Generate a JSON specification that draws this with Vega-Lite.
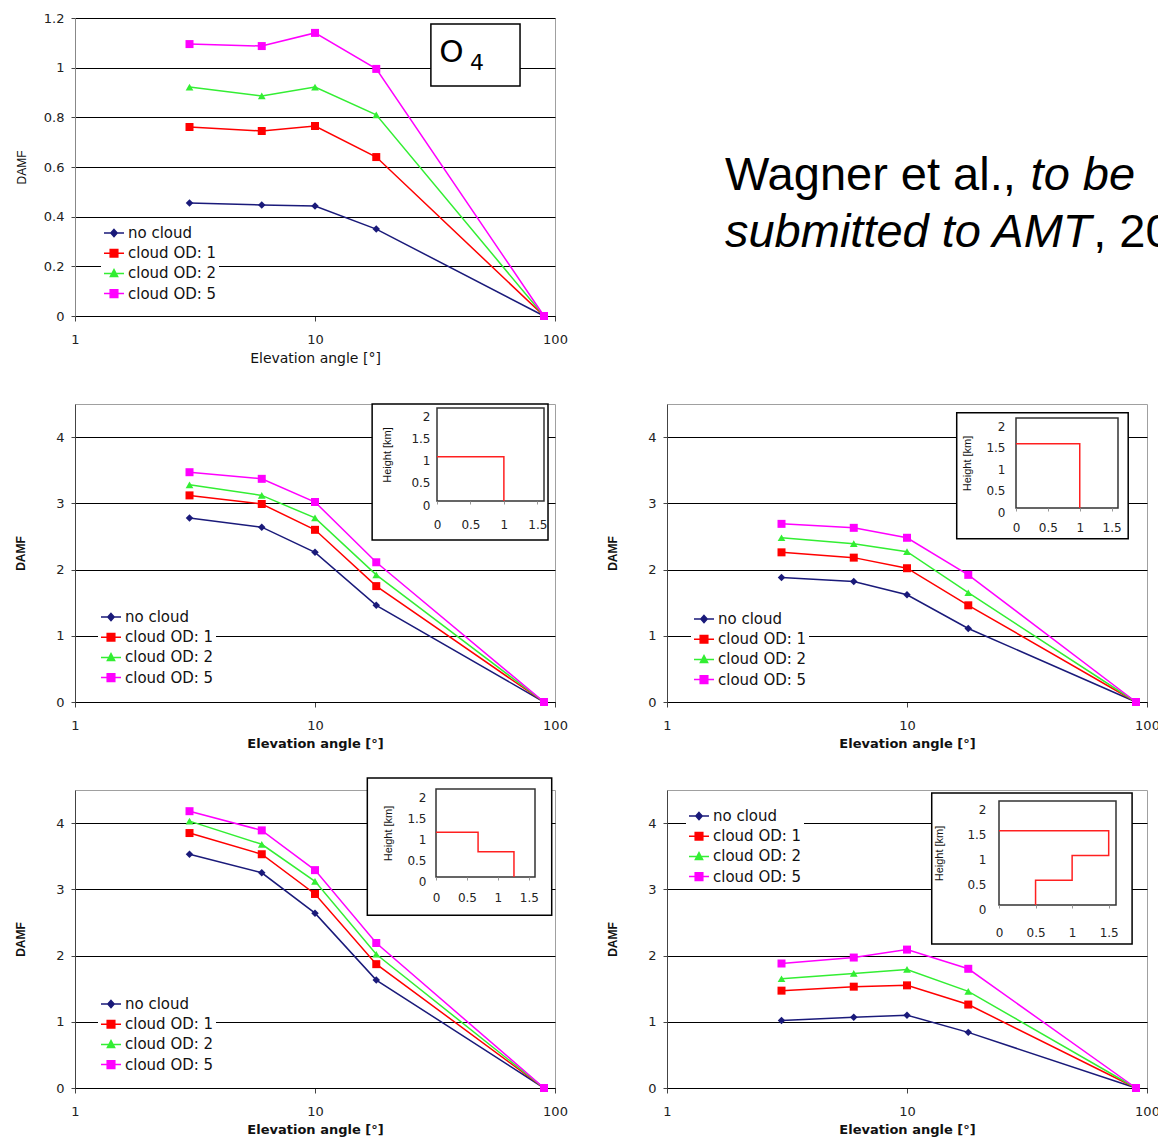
{
  "$schema": "https://vega.github.io/schema/vega-lite/v6.json",
  "background": "white",
  "padding": {"left": 14, "top": 11, "right": 0, "bottom": 0},
  "config": {
    "font": "DejaVu Sans",
    "view": {"stroke": "#a0a0a0"},
    "axis": {"labelFont": "DejaVu Sans", "titleFont": "DejaVu Sans", "labelFontSize": 13, "labelColor": "#222", "titleColor": "#111", "tickColor": "#444", "domainColor": "#000", "gridColor": "#000", "gridOpacity": 1, "labelAngle": 0},
    "legend": {"labelFont": "DejaVu Sans", "labelFontSize": 15, "labelColor": "#111", "symbolSize": 400, "symbolStrokeWidth": 1.5, "symbolOpacity": 1, "rowPadding": 1.2, "padding": 2, "fillColor": "white", "labelOffset": 3}
  },
  "datasets": {
    "p1": [
      {"angle": 3, "series": "no cloud", "damf": 0.455}, {"angle": 6, "series": "no cloud", "damf": 0.447}, {"angle": 10, "series": "no cloud", "damf": 0.443}, {"angle": 18, "series": "no cloud", "damf": 0.35}, {"angle": 90, "series": "no cloud", "damf": 0},
      {"angle": 3, "series": "cloud OD: 1", "damf": 0.761}, {"angle": 6, "series": "cloud OD: 1", "damf": 0.745}, {"angle": 10, "series": "cloud OD: 1", "damf": 0.765}, {"angle": 18, "series": "cloud OD: 1", "damf": 0.64}, {"angle": 90, "series": "cloud OD: 1", "damf": 0},
      {"angle": 3, "series": "cloud OD: 2", "damf": 0.922}, {"angle": 6, "series": "cloud OD: 2", "damf": 0.886}, {"angle": 10, "series": "cloud OD: 2", "damf": 0.922}, {"angle": 18, "series": "cloud OD: 2", "damf": 0.81}, {"angle": 90, "series": "cloud OD: 2", "damf": 0},
      {"angle": 3, "series": "cloud OD: 5", "damf": 1.095}, {"angle": 6, "series": "cloud OD: 5", "damf": 1.087}, {"angle": 10, "series": "cloud OD: 5", "damf": 1.14}, {"angle": 18, "series": "cloud OD: 5", "damf": 0.995}, {"angle": 90, "series": "cloud OD: 5", "damf": 0}
    ],
    "p2": [
      {"angle": 3, "series": "no cloud", "damf": 2.78}, {"angle": 6, "series": "no cloud", "damf": 2.64}, {"angle": 10, "series": "no cloud", "damf": 2.26}, {"angle": 18, "series": "no cloud", "damf": 1.46}, {"angle": 90, "series": "no cloud", "damf": 0},
      {"angle": 3, "series": "cloud OD: 1", "damf": 3.12}, {"angle": 6, "series": "cloud OD: 1", "damf": 2.99}, {"angle": 10, "series": "cloud OD: 1", "damf": 2.6}, {"angle": 18, "series": "cloud OD: 1", "damf": 1.75}, {"angle": 90, "series": "cloud OD: 1", "damf": 0},
      {"angle": 3, "series": "cloud OD: 2", "damf": 3.28}, {"angle": 6, "series": "cloud OD: 2", "damf": 3.12}, {"angle": 10, "series": "cloud OD: 2", "damf": 2.78}, {"angle": 18, "series": "cloud OD: 2", "damf": 1.92}, {"angle": 90, "series": "cloud OD: 2", "damf": 0},
      {"angle": 3, "series": "cloud OD: 5", "damf": 3.47}, {"angle": 6, "series": "cloud OD: 5", "damf": 3.37}, {"angle": 10, "series": "cloud OD: 5", "damf": 3.02}, {"angle": 18, "series": "cloud OD: 5", "damf": 2.11}, {"angle": 90, "series": "cloud OD: 5", "damf": 0}
    ],
    "p3": [
      {"angle": 3, "series": "no cloud", "damf": 1.88}, {"angle": 6, "series": "no cloud", "damf": 1.82}, {"angle": 10, "series": "no cloud", "damf": 1.62}, {"angle": 18, "series": "no cloud", "damf": 1.11}, {"angle": 90, "series": "no cloud", "damf": 0},
      {"angle": 3, "series": "cloud OD: 1", "damf": 2.26}, {"angle": 6, "series": "cloud OD: 1", "damf": 2.18}, {"angle": 10, "series": "cloud OD: 1", "damf": 2.02}, {"angle": 18, "series": "cloud OD: 1", "damf": 1.46}, {"angle": 90, "series": "cloud OD: 1", "damf": 0},
      {"angle": 3, "series": "cloud OD: 2", "damf": 2.48}, {"angle": 6, "series": "cloud OD: 2", "damf": 2.39}, {"angle": 10, "series": "cloud OD: 2", "damf": 2.27}, {"angle": 18, "series": "cloud OD: 2", "damf": 1.65}, {"angle": 90, "series": "cloud OD: 2", "damf": 0},
      {"angle": 3, "series": "cloud OD: 5", "damf": 2.69}, {"angle": 6, "series": "cloud OD: 5", "damf": 2.63}, {"angle": 10, "series": "cloud OD: 5", "damf": 2.48}, {"angle": 18, "series": "cloud OD: 5", "damf": 1.92}, {"angle": 90, "series": "cloud OD: 5", "damf": 0}
    ],
    "p4": [
      {"angle": 3, "series": "no cloud", "damf": 3.53}, {"angle": 6, "series": "no cloud", "damf": 3.25}, {"angle": 10, "series": "no cloud", "damf": 2.64}, {"angle": 18, "series": "no cloud", "damf": 1.63}, {"angle": 90, "series": "no cloud", "damf": 0},
      {"angle": 3, "series": "cloud OD: 1", "damf": 3.85}, {"angle": 6, "series": "cloud OD: 1", "damf": 3.53}, {"angle": 10, "series": "cloud OD: 1", "damf": 2.93}, {"angle": 18, "series": "cloud OD: 1", "damf": 1.87}, {"angle": 90, "series": "cloud OD: 1", "damf": 0},
      {"angle": 3, "series": "cloud OD: 2", "damf": 4.03}, {"angle": 6, "series": "cloud OD: 2", "damf": 3.68}, {"angle": 10, "series": "cloud OD: 2", "damf": 3.12}, {"angle": 18, "series": "cloud OD: 2", "damf": 2.02}, {"angle": 90, "series": "cloud OD: 2", "damf": 0},
      {"angle": 3, "series": "cloud OD: 5", "damf": 4.18}, {"angle": 6, "series": "cloud OD: 5", "damf": 3.89}, {"angle": 10, "series": "cloud OD: 5", "damf": 3.29}, {"angle": 18, "series": "cloud OD: 5", "damf": 2.19}, {"angle": 90, "series": "cloud OD: 5", "damf": 0}
    ],
    "p5": [
      {"angle": 3, "series": "no cloud", "damf": 1.02}, {"angle": 6, "series": "no cloud", "damf": 1.07}, {"angle": 10, "series": "no cloud", "damf": 1.1}, {"angle": 18, "series": "no cloud", "damf": 0.84}, {"angle": 90, "series": "no cloud", "damf": 0},
      {"angle": 3, "series": "cloud OD: 1", "damf": 1.47}, {"angle": 6, "series": "cloud OD: 1", "damf": 1.53}, {"angle": 10, "series": "cloud OD: 1", "damf": 1.55}, {"angle": 18, "series": "cloud OD: 1", "damf": 1.26}, {"angle": 90, "series": "cloud OD: 1", "damf": 0},
      {"angle": 3, "series": "cloud OD: 2", "damf": 1.65}, {"angle": 6, "series": "cloud OD: 2", "damf": 1.73}, {"angle": 10, "series": "cloud OD: 2", "damf": 1.79}, {"angle": 18, "series": "cloud OD: 2", "damf": 1.46}, {"angle": 90, "series": "cloud OD: 2", "damf": 0},
      {"angle": 3, "series": "cloud OD: 5", "damf": 1.88}, {"angle": 6, "series": "cloud OD: 5", "damf": 1.97}, {"angle": 10, "series": "cloud OD: 5", "damf": 2.09}, {"angle": 18, "series": "cloud OD: 5", "damf": 1.8}, {"angle": 90, "series": "cloud OD: 5", "damf": 0}
    ],
    "prof2": [{"ext": 0, "h": 1.0, "i": 0}, {"ext": 1, "h": 1.0, "i": 1}, {"ext": 1, "h": 0, "i": 2}],
    "prof3": [{"ext": 0, "h": 1.5, "i": 0}, {"ext": 1, "h": 1.5, "i": 1}, {"ext": 1, "h": 0, "i": 2}],
    "prof4": [{"ext": 0, "h": 1.07, "i": 0}, {"ext": 0.68, "h": 1.07, "i": 1}, {"ext": 0.68, "h": 0.6, "i": 2}, {"ext": 1.26, "h": 0.6, "i": 3}, {"ext": 1.26, "h": 0, "i": 4}],
    "prof5": [{"ext": 0, "h": 1.5, "i": 0}, {"ext": 1.5, "h": 1.5, "i": 1}, {"ext": 1.5, "h": 1.0, "i": 2}, {"ext": 1.0, "h": 1.0, "i": 3}, {"ext": 1.0, "h": 0.5, "i": 4}, {"ext": 0.5, "h": 0.5, "i": 5}, {"ext": 0.5, "h": 0, "i": 6}]
  },
  "columns": 2,
  "bounds": "flush",
  "spacing": {"row": 88, "column": 112},
  "resolve": {"scale": {"shape": "independent", "fill": "independent", "stroke": "independent"}, "legend": {"shape": "independent", "fill": "independent", "stroke": "independent"}},
  "concat": [
    {
      "width": 480, "height": 298,
      "layer": [
        {
          "data": {"name": "p1"},
          "encoding": {
            "x": {"field": "angle", "type": "quantitative", "scale": {"type": "log", "domain": [1, 100], "nice": false}, "axis": {"title": "Elevation angle [°]", "values": [1, 10, 100], "format": "~g", "grid": false, "tickSize": 5, "labelPadding": 12, "titlePadding": 5, "titleFontSize": 14, "titleFontWeight": "normal", "labelFlush": false}},
            "y": {"field": "damf", "type": "quantitative", "scale": {"domain": [0, 1.2], "nice": false}, "axis": {"title": "DAMF", "values": [0, 0.2, 0.4, 0.6, 0.8, 1, 1.2], "format": "~g", "grid": true, "tickSize": 4, "labelPadding": 7, "domainColor": "#888", "titleFont": "Liberation Sans", "titleFontSize": 12, "titleFontWeight": "normal", "titlePadding": 15}}
          },
          "layer": [
            {"mark": {"type": "line", "strokeWidth": 1.5}, "encoding": {"stroke": {"field": "series", "type": "nominal", "scale": {"domain": ["no cloud", "cloud OD: 1", "cloud OD: 2", "cloud OD: 5"], "range": ["#1a1a7a", "#ff0000", "#33ee33", "#ff00ff"]}, "legend": {"title": null, "orient": "none", "legendX": 26, "legendY": 202}}}},
            {"transform": [{"filter": "datum.series === 'no cloud'"}], "mark": {"type": "point", "shape": "diamond", "filled": true, "opacity": 1, "size": 56}, "encoding": {"fill": {"field": "series", "type": "nominal", "scale": {"domain": ["no cloud", "cloud OD: 1", "cloud OD: 2", "cloud OD: 5"], "range": ["#1a1a7a", "#ff0000", "#33ee33", "#ff00ff"]}, "legend": {"title": null, "orient": "none", "legendX": 26, "legendY": 202}}}},
            {"transform": [{"filter": "datum.series === 'cloud OD: 2'"}], "mark": {"type": "point", "shape": "triangle-up", "filled": true, "opacity": 1, "size": 60}, "encoding": {"fill": {"field": "series", "type": "nominal", "scale": {"domain": ["no cloud", "cloud OD: 1", "cloud OD: 2", "cloud OD: 5"], "range": ["#1a1a7a", "#ff0000", "#33ee33", "#ff00ff"]}, "legend": {"title": null, "orient": "none", "legendX": 26, "legendY": 202}}}},
            {"transform": [{"filter": "datum.series === 'cloud OD: 1' || datum.series === 'cloud OD: 5'"}], "mark": {"type": "point", "shape": "square", "filled": true, "opacity": 1, "size": 64}, "encoding": {"fill": {"field": "series", "type": "nominal", "scale": {"domain": ["no cloud", "cloud OD: 1", "cloud OD: 2", "cloud OD: 5"], "range": ["#1a1a7a", "#ff0000", "#33ee33", "#ff00ff"]}, "legend": {"title": null, "orient": "none", "legendX": 26, "legendY": 202}}}},
            {"mark": {"type": "point", "filled": true, "opacity": 0},
             "encoding": {
               "fill": {"field": "series", "type": "nominal", "scale": {"domain": ["no cloud", "cloud OD: 1", "cloud OD: 2", "cloud OD: 5"], "range": ["#1a1a7a", "#ff0000", "#33ee33", "#ff00ff"]}, "legend": {"title": null, "orient": "none", "legendX": 26, "legendY": 202}},
               "stroke": {"field": "series", "type": "nominal", "scale": {"domain": ["no cloud", "cloud OD: 1", "cloud OD: 2", "cloud OD: 5"], "range": ["#1a1a7a", "#ff0000", "#33ee33", "#ff00ff"]}, "legend": {"title": null, "orient": "none", "legendX": 26, "legendY": 202}},
               "shape": {"field": "series", "type": "nominal", "scale": {"domain": ["no cloud", "cloud OD: 1", "cloud OD: 2", "cloud OD: 5"], "range": ["M-1,0H1M0,-0.36L0.32,0L0,0.36L-0.32,0Z", "M-1,0H1M-0.38,-0.38H0.38V0.38H-0.38Z", "M-1,0H1M0,-0.38L0.36,0.3L-0.36,0.3Z", "M-1,0H1M-0.38,-0.38H0.38V0.38H-0.38Z"]}, "legend": {"title": null, "orient": "none", "legendX": 26, "legendY": 202}}
             }}
          ]
        },
        {"data": {"values": [{}]}, "mark": {"type": "rect", "fill": "white", "stroke": "#000", "strokeWidth": 1.5}, "encoding": {"x": {"datum": 30.4, "type": "quantitative"}, "x2": {"datum": 71.5}, "y": {"datum": 0.926, "type": "quantitative"}, "y2": {"datum": 1.176}}},
        {"data": {"values": [{}]}, "mark": {"type": "text", "text": "O", "fontSize": 31, "align": "left", "baseline": "alphabetic", "font": "DejaVu Sans", "color": "#000"}, "encoding": {"x": {"datum": 32.9, "type": "quantitative"}, "y": {"datum": 1.023, "type": "quantitative"}}},
        {"data": {"values": [{}]}, "mark": {"type": "text", "text": "4", "fontSize": 22, "align": "left", "baseline": "alphabetic", "font": "DejaVu Sans", "color": "#000"}, "encoding": {"x": {"datum": 44.2, "type": "quantitative"}, "y": {"datum": 0.99, "type": "quantitative"}}}
      ]
    },
    {
      "width": 480, "height": 298,
      "view": {"stroke": null},
      "data": {"values": [{}]},
      "layer": [
        {"mark": {"type": "text", "text": "Wagner et al.,", "fontSize": 47, "align": "left", "baseline": "alphabetic", "font": "Liberation Sans", "color": "#000"}, "encoding": {"x": {"datum": 12.08, "type": "quantitative", "scale": {"domain": [0, 100]}, "axis": null}, "y": {"datum": 42.28, "type": "quantitative", "scale": {"domain": [0, 100]}, "axis": null}}},
        {"mark": {"type": "text", "text": "to be", "fontSize": 47, "fontStyle": "italic", "align": "left", "baseline": "alphabetic", "font": "Liberation Sans", "color": "#000"}, "encoding": {"x": {"datum": 75.75, "type": "quantitative", "scale": {"domain": [0, 100]}, "axis": null}, "y": {"datum": 42.28, "type": "quantitative", "scale": {"domain": [0, 100]}, "axis": null}}},
        {"mark": {"type": "text", "text": "submitted to AMT", "fontSize": 47, "fontStyle": "italic", "align": "left", "baseline": "alphabetic", "font": "Liberation Sans", "color": "#000"}, "encoding": {"x": {"datum": 12.08, "type": "quantitative", "scale": {"domain": [0, 100]}, "axis": null}, "y": {"datum": 23.15, "type": "quantitative", "scale": {"domain": [0, 100]}, "axis": null}}},
        {"mark": {"type": "text", "text": ", 20", "fontSize": 47, "align": "left", "baseline": "alphabetic", "font": "Liberation Sans", "color": "#000"}, "encoding": {"x": {"datum": 88.8, "type": "quantitative", "scale": {"domain": [0, 100]}, "axis": null}, "y": {"datum": 23.15, "type": "quantitative", "scale": {"domain": [0, 100]}, "axis": null}}}
      ]
    },
    {
      "width": 480, "height": 298,
      "resolve": {"scale": {"x": "independent", "y": "independent"}},
      "layer": [
        {
          "data": {"name": "p2"},
          "encoding": {
            "x": {"field": "angle", "type": "quantitative", "scale": {"type": "log", "domain": [1, 100], "nice": false}, "axis": {"title": "Elevation angle [°]", "values": [1, 10, 100], "format": "~g", "grid": false, "tickSize": 5, "labelPadding": 12, "titlePadding": 5, "titleFontSize": 13, "titleFontWeight": "bold", "labelFlush": false}},
            "y": {"field": "damf", "type": "quantitative", "scale": {"domain": [0, 4.5], "nice": false}, "axis": {"title": "DAMF", "values": [0, 1, 2, 3, 4], "format": "~g", "grid": true, "tickSize": 4, "labelPadding": 7, "domainColor": "#444", "titleFont": "Liberation Sans", "titleFontSize": 12, "titleFontWeight": "bold", "titlePadding": 28}}
          },
          "layer": [
            {"mark": {"type": "line", "strokeWidth": 1.5}, "encoding": {"stroke": {"field": "series", "type": "nominal", "scale": {"domain": ["no cloud", "cloud OD: 1", "cloud OD: 2", "cloud OD: 5"], "range": ["#1a1a7a", "#ff0000", "#33ee33", "#ff00ff"]}, "legend": {"title": null, "orient": "none", "legendX": 23, "legendY": 200}}}},
            {"transform": [{"filter": "datum.series === 'no cloud'"}], "mark": {"type": "point", "shape": "diamond", "filled": true, "opacity": 1, "size": 56}, "encoding": {"fill": {"field": "series", "type": "nominal", "scale": {"domain": ["no cloud", "cloud OD: 1", "cloud OD: 2", "cloud OD: 5"], "range": ["#1a1a7a", "#ff0000", "#33ee33", "#ff00ff"]}, "legend": {"title": null, "orient": "none", "legendX": 23, "legendY": 200}}}},
            {"transform": [{"filter": "datum.series === 'cloud OD: 2'"}], "mark": {"type": "point", "shape": "triangle-up", "filled": true, "opacity": 1, "size": 60}, "encoding": {"fill": {"field": "series", "type": "nominal", "scale": {"domain": ["no cloud", "cloud OD: 1", "cloud OD: 2", "cloud OD: 5"], "range": ["#1a1a7a", "#ff0000", "#33ee33", "#ff00ff"]}, "legend": {"title": null, "orient": "none", "legendX": 23, "legendY": 200}}}},
            {"transform": [{"filter": "datum.series === 'cloud OD: 1' || datum.series === 'cloud OD: 5'"}], "mark": {"type": "point", "shape": "square", "filled": true, "opacity": 1, "size": 64}, "encoding": {"fill": {"field": "series", "type": "nominal", "scale": {"domain": ["no cloud", "cloud OD: 1", "cloud OD: 2", "cloud OD: 5"], "range": ["#1a1a7a", "#ff0000", "#33ee33", "#ff00ff"]}, "legend": {"title": null, "orient": "none", "legendX": 23, "legendY": 200}}}},
            {"mark": {"type": "point", "filled": true, "opacity": 0},
             "encoding": {
               "fill": {"field": "series", "type": "nominal", "scale": {"domain": ["no cloud", "cloud OD: 1", "cloud OD: 2", "cloud OD: 5"], "range": ["#1a1a7a", "#ff0000", "#33ee33", "#ff00ff"]}, "legend": {"title": null, "orient": "none", "legendX": 23, "legendY": 200}},
               "stroke": {"field": "series", "type": "nominal", "scale": {"domain": ["no cloud", "cloud OD: 1", "cloud OD: 2", "cloud OD: 5"], "range": ["#1a1a7a", "#ff0000", "#33ee33", "#ff00ff"]}, "legend": {"title": null, "orient": "none", "legendX": 23, "legendY": 200}},
               "shape": {"field": "series", "type": "nominal", "scale": {"domain": ["no cloud", "cloud OD: 1", "cloud OD: 2", "cloud OD: 5"], "range": ["M-1,0H1M0,-0.36L0.32,0L0,0.36L-0.32,0Z", "M-1,0H1M-0.38,-0.38H0.38V0.38H-0.38Z", "M-1,0H1M0,-0.38L0.36,0.3L-0.36,0.3Z", "M-1,0H1M-0.38,-0.38H0.38V0.38H-0.38Z"]}, "legend": {"title": null, "orient": "none", "legendX": 23, "legendY": 200}}
             }}
          ]
        },
        {
          "layer": [
            {"data": {"values": [{}]}, "mark": {"type": "rect", "fill": "white", "stroke": "#000", "strokeWidth": 1.5}, "encoding": {"x": {"datum": -0.97, "type": "quantitative", "scale": {"domain": [0, 1.6], "range": [362, 469], "nice": false, "zero": false}}, "x2": {"datum": 1.66}, "y": {"datum": -0.88, "type": "quantitative", "scale": {"domain": [0, 2.1], "range": [97, 4], "nice": false, "zero": false}}, "y2": {"datum": 2.19}}},
            {"data": {"values": [{}]}, "mark": {"type": "rect", "fill": null, "fillOpacity": 0, "stroke": "#333", "strokeWidth": 1.5}, "encoding": {"x": {"datum": 0, "type": "quantitative", "scale": {"domain": [0, 1.6], "range": [362, 469], "nice": false, "zero": false}}, "x2": {"datum": 1.6}, "y": {"datum": 0, "type": "quantitative", "scale": {"domain": [0, 2.1], "range": [97, 4], "nice": false, "zero": false}}, "y2": {"datum": 2.1}}},
            {"data": {"name": "prof2"}, "mark": {"type": "line", "color": "#ff2020", "strokeWidth": 1.5}, "encoding": {
              "x": {"field": "ext", "type": "quantitative", "scale": {"domain": [0, 1.6], "range": [362, 469], "nice": false, "zero": false}, "axis": {"orient": "bottom", "offset": -201, "values": [0, 0.5, 1, 1.5], "format": "~g", "grid": false, "domain": false, "tickSize": 3, "tickColor": "#999", "labelPadding": 15, "labelFontSize": 12, "title": null, "zindex": 1, "labelFlush": false}},
              "y": {"field": "h", "type": "quantitative", "scale": {"domain": [0, 2.1], "range": [97, 4], "nice": false, "zero": false}, "axis": {"orient": "left", "offset": -362, "values": [0, 0.5, 1, 1.5, 2], "format": "~g", "grid": false, "domain": false, "tickSize": 0, "labelPadding": 7, "labelOffset": 4, "labelFontSize": 12, "title": "Height [km]", "titleFont": "Liberation Sans", "titleFontSize": 11, "titleFontWeight": "normal", "titlePadding": 18, "zindex": 1}},
              "order": {"field": "i", "type": "quantitative"}}}
          ]
        }
      ]
    },
    {
      "width": 480, "height": 298,
      "resolve": {"scale": {"x": "independent", "y": "independent"}},
      "layer": [
        {
          "data": {"name": "p3"},
          "encoding": {
            "x": {"field": "angle", "type": "quantitative", "scale": {"type": "log", "domain": [1, 100], "nice": false}, "axis": {"title": "Elevation angle [°]", "values": [1, 10, 100], "format": "~g", "grid": false, "tickSize": 5, "labelPadding": 12, "titlePadding": 5, "titleFontSize": 13, "titleFontWeight": "bold", "labelFlush": false}},
            "y": {"field": "damf", "type": "quantitative", "scale": {"domain": [0, 4.5], "nice": false}, "axis": {"title": "DAMF", "values": [0, 1, 2, 3, 4], "format": "~g", "grid": true, "tickSize": 4, "labelPadding": 7, "domainColor": "#444", "titleFont": "Liberation Sans", "titleFontSize": 12, "titleFontWeight": "bold", "titlePadding": 28}}
          },
          "layer": [
            {"mark": {"type": "line", "strokeWidth": 1.5}, "encoding": {"stroke": {"field": "series", "type": "nominal", "scale": {"domain": ["no cloud", "cloud OD: 1", "cloud OD: 2", "cloud OD: 5"], "range": ["#1a1a7a", "#ff0000", "#33ee33", "#ff00ff"]}, "legend": {"title": null, "orient": "none", "legendX": 24, "legendY": 202}}}},
            {"transform": [{"filter": "datum.series === 'no cloud'"}], "mark": {"type": "point", "shape": "diamond", "filled": true, "opacity": 1, "size": 56}, "encoding": {"fill": {"field": "series", "type": "nominal", "scale": {"domain": ["no cloud", "cloud OD: 1", "cloud OD: 2", "cloud OD: 5"], "range": ["#1a1a7a", "#ff0000", "#33ee33", "#ff00ff"]}, "legend": {"title": null, "orient": "none", "legendX": 24, "legendY": 202}}}},
            {"transform": [{"filter": "datum.series === 'cloud OD: 2'"}], "mark": {"type": "point", "shape": "triangle-up", "filled": true, "opacity": 1, "size": 60}, "encoding": {"fill": {"field": "series", "type": "nominal", "scale": {"domain": ["no cloud", "cloud OD: 1", "cloud OD: 2", "cloud OD: 5"], "range": ["#1a1a7a", "#ff0000", "#33ee33", "#ff00ff"]}, "legend": {"title": null, "orient": "none", "legendX": 24, "legendY": 202}}}},
            {"transform": [{"filter": "datum.series === 'cloud OD: 1' || datum.series === 'cloud OD: 5'"}], "mark": {"type": "point", "shape": "square", "filled": true, "opacity": 1, "size": 64}, "encoding": {"fill": {"field": "series", "type": "nominal", "scale": {"domain": ["no cloud", "cloud OD: 1", "cloud OD: 2", "cloud OD: 5"], "range": ["#1a1a7a", "#ff0000", "#33ee33", "#ff00ff"]}, "legend": {"title": null, "orient": "none", "legendX": 24, "legendY": 202}}}},
            {"mark": {"type": "point", "filled": true, "opacity": 0},
             "encoding": {
               "fill": {"field": "series", "type": "nominal", "scale": {"domain": ["no cloud", "cloud OD: 1", "cloud OD: 2", "cloud OD: 5"], "range": ["#1a1a7a", "#ff0000", "#33ee33", "#ff00ff"]}, "legend": {"title": null, "orient": "none", "legendX": 24, "legendY": 202}},
               "stroke": {"field": "series", "type": "nominal", "scale": {"domain": ["no cloud", "cloud OD: 1", "cloud OD: 2", "cloud OD: 5"], "range": ["#1a1a7a", "#ff0000", "#33ee33", "#ff00ff"]}, "legend": {"title": null, "orient": "none", "legendX": 24, "legendY": 202}},
               "shape": {"field": "series", "type": "nominal", "scale": {"domain": ["no cloud", "cloud OD: 1", "cloud OD: 2", "cloud OD: 5"], "range": ["M-1,0H1M0,-0.36L0.32,0L0,0.36L-0.32,0Z", "M-1,0H1M-0.38,-0.38H0.38V0.38H-0.38Z", "M-1,0H1M0,-0.38L0.36,0.3L-0.36,0.3Z", "M-1,0H1M-0.38,-0.38H0.38V0.38H-0.38Z"]}, "legend": {"title": null, "orient": "none", "legendX": 24, "legendY": 202}}
             }}
          ]
        },
        {
          "layer": [
            {"data": {"values": [{}]}, "mark": {"type": "rect", "fill": "white", "stroke": "#000", "strokeWidth": 1.5}, "encoding": {"x": {"datum": -0.93, "type": "quantitative", "scale": {"domain": [0, 1.6], "range": [349, 451], "nice": false, "zero": false}}, "x2": {"datum": 1.76}, "y": {"datum": -0.72, "type": "quantitative", "scale": {"domain": [0, 2.1], "range": [104, 14], "nice": false, "zero": false}}, "y2": {"datum": 2.22}}},
            {"data": {"values": [{}]}, "mark": {"type": "rect", "fill": null, "fillOpacity": 0, "stroke": "#333", "strokeWidth": 1.5}, "encoding": {"x": {"datum": 0, "type": "quantitative", "scale": {"domain": [0, 1.6], "range": [349, 451], "nice": false, "zero": false}}, "x2": {"datum": 1.6}, "y": {"datum": 0, "type": "quantitative", "scale": {"domain": [0, 2.1], "range": [104, 14], "nice": false, "zero": false}}, "y2": {"datum": 2.1}}},
            {"data": {"name": "prof3"}, "mark": {"type": "line", "color": "#ff2020", "strokeWidth": 1.5}, "encoding": {
              "x": {"field": "ext", "type": "quantitative", "scale": {"domain": [0, 1.6], "range": [349, 451], "nice": false, "zero": false}, "axis": {"orient": "bottom", "offset": -194, "values": [0, 0.5, 1, 1.5], "format": "~g", "grid": false, "domain": false, "tickSize": 3, "tickColor": "#999", "labelPadding": 11, "labelFontSize": 12, "title": null, "zindex": 1, "labelFlush": false}},
              "y": {"field": "h", "type": "quantitative", "scale": {"domain": [0, 2.1], "range": [104, 14], "nice": false, "zero": false}, "axis": {"orient": "left", "offset": -349, "values": [0, 0.5, 1, 1.5, 2], "format": "~g", "grid": false, "domain": false, "tickSize": 0, "labelPadding": 11, "labelOffset": 4, "labelFontSize": 12, "title": "Height [km]", "titleFont": "Liberation Sans", "titleFontSize": 11, "titleFontWeight": "normal", "titlePadding": 13, "zindex": 1}},
              "order": {"field": "i", "type": "quantitative"}}}
          ]
        }
      ]
    },
    {
      "width": 480, "height": 298,
      "resolve": {"scale": {"x": "independent", "y": "independent"}},
      "layer": [
        {
          "data": {"name": "p4"},
          "encoding": {
            "x": {"field": "angle", "type": "quantitative", "scale": {"type": "log", "domain": [1, 100], "nice": false}, "axis": {"title": "Elevation angle [°]", "values": [1, 10, 100], "format": "~g", "grid": false, "tickSize": 5, "labelPadding": 12, "titlePadding": 5, "titleFontSize": 13, "titleFontWeight": "bold", "labelFlush": false}},
            "y": {"field": "damf", "type": "quantitative", "scale": {"domain": [0, 4.5], "nice": false}, "axis": {"title": "DAMF", "values": [0, 1, 2, 3, 4], "format": "~g", "grid": true, "tickSize": 4, "labelPadding": 7, "domainColor": "#444", "titleFont": "Liberation Sans", "titleFontSize": 12, "titleFontWeight": "bold", "titlePadding": 28}}
          },
          "layer": [
            {"mark": {"type": "line", "strokeWidth": 1.5}, "encoding": {"stroke": {"field": "series", "type": "nominal", "scale": {"domain": ["no cloud", "cloud OD: 1", "cloud OD: 2", "cloud OD: 5"], "range": ["#1a1a7a", "#ff0000", "#33ee33", "#ff00ff"]}, "legend": {"title": null, "orient": "none", "legendX": 23, "legendY": 201}}}},
            {"transform": [{"filter": "datum.series === 'no cloud'"}], "mark": {"type": "point", "shape": "diamond", "filled": true, "opacity": 1, "size": 56}, "encoding": {"fill": {"field": "series", "type": "nominal", "scale": {"domain": ["no cloud", "cloud OD: 1", "cloud OD: 2", "cloud OD: 5"], "range": ["#1a1a7a", "#ff0000", "#33ee33", "#ff00ff"]}, "legend": {"title": null, "orient": "none", "legendX": 23, "legendY": 201}}}},
            {"transform": [{"filter": "datum.series === 'cloud OD: 2'"}], "mark": {"type": "point", "shape": "triangle-up", "filled": true, "opacity": 1, "size": 60}, "encoding": {"fill": {"field": "series", "type": "nominal", "scale": {"domain": ["no cloud", "cloud OD: 1", "cloud OD: 2", "cloud OD: 5"], "range": ["#1a1a7a", "#ff0000", "#33ee33", "#ff00ff"]}, "legend": {"title": null, "orient": "none", "legendX": 23, "legendY": 201}}}},
            {"transform": [{"filter": "datum.series === 'cloud OD: 1' || datum.series === 'cloud OD: 5'"}], "mark": {"type": "point", "shape": "square", "filled": true, "opacity": 1, "size": 64}, "encoding": {"fill": {"field": "series", "type": "nominal", "scale": {"domain": ["no cloud", "cloud OD: 1", "cloud OD: 2", "cloud OD: 5"], "range": ["#1a1a7a", "#ff0000", "#33ee33", "#ff00ff"]}, "legend": {"title": null, "orient": "none", "legendX": 23, "legendY": 201}}}},
            {"mark": {"type": "point", "filled": true, "opacity": 0},
             "encoding": {
               "fill": {"field": "series", "type": "nominal", "scale": {"domain": ["no cloud", "cloud OD: 1", "cloud OD: 2", "cloud OD: 5"], "range": ["#1a1a7a", "#ff0000", "#33ee33", "#ff00ff"]}, "legend": {"title": null, "orient": "none", "legendX": 23, "legendY": 201}},
               "stroke": {"field": "series", "type": "nominal", "scale": {"domain": ["no cloud", "cloud OD: 1", "cloud OD: 2", "cloud OD: 5"], "range": ["#1a1a7a", "#ff0000", "#33ee33", "#ff00ff"]}, "legend": {"title": null, "orient": "none", "legendX": 23, "legendY": 201}},
               "shape": {"field": "series", "type": "nominal", "scale": {"domain": ["no cloud", "cloud OD: 1", "cloud OD: 2", "cloud OD: 5"], "range": ["M-1,0H1M0,-0.36L0.32,0L0,0.36L-0.32,0Z", "M-1,0H1M-0.38,-0.38H0.38V0.38H-0.38Z", "M-1,0H1M0,-0.38L0.36,0.3L-0.36,0.3Z", "M-1,0H1M-0.38,-0.38H0.38V0.38H-0.38Z"]}, "legend": {"title": null, "orient": "none", "legendX": 23, "legendY": 201}}
             }}
          ]
        },
        {
          "layer": [
            {"data": {"values": [{}]}, "mark": {"type": "rect", "fill": "white", "stroke": "#000", "strokeWidth": 1.5}, "encoding": {"x": {"datum": -1.11, "type": "quantitative", "scale": {"domain": [0, 1.6], "range": [361, 460], "nice": false, "zero": false}}, "x2": {"datum": 1.87}, "y": {"datum": -0.91, "type": "quantitative", "scale": {"domain": [0, 2.1], "range": [87, -1], "nice": false, "zero": false}}, "y2": {"datum": 2.36}}},
            {"data": {"values": [{}]}, "mark": {"type": "rect", "fill": null, "fillOpacity": 0, "stroke": "#333", "strokeWidth": 1.5}, "encoding": {"x": {"datum": 0, "type": "quantitative", "scale": {"domain": [0, 1.6], "range": [361, 460], "nice": false, "zero": false}}, "x2": {"datum": 1.6}, "y": {"datum": 0, "type": "quantitative", "scale": {"domain": [0, 2.1], "range": [87, -1], "nice": false, "zero": false}}, "y2": {"datum": 2.1}}},
            {"data": {"name": "prof4"}, "mark": {"type": "line", "color": "#ff2020", "strokeWidth": 1.5}, "encoding": {
              "x": {"field": "ext", "type": "quantitative", "scale": {"domain": [0, 1.6], "range": [361, 460], "nice": false, "zero": false}, "axis": {"orient": "bottom", "offset": -211, "values": [0, 0.5, 1, 1.5], "format": "~g", "grid": false, "domain": false, "tickSize": 3, "tickColor": "#999", "labelPadding": 12, "labelFontSize": 12, "title": null, "zindex": 1, "labelFlush": false}},
              "y": {"field": "h", "type": "quantitative", "scale": {"domain": [0, 2.1], "range": [87, -1], "nice": false, "zero": false}, "axis": {"orient": "left", "offset": -361, "values": [0, 0.5, 1, 1.5, 2], "format": "~g", "grid": false, "domain": false, "tickSize": 0, "labelPadding": 10, "labelOffset": 4, "labelFontSize": 12, "title": "Height [km]", "titleFont": "Liberation Sans", "titleFontSize": 11, "titleFontWeight": "normal", "titlePadding": 13, "zindex": 1}},
              "order": {"field": "i", "type": "quantitative"}}}
          ]
        }
      ]
    },
    {
      "width": 480, "height": 298,
      "resolve": {"scale": {"x": "independent", "y": "independent"}},
      "layer": [
        {
          "data": {"name": "p5"},
          "encoding": {
            "x": {"field": "angle", "type": "quantitative", "scale": {"type": "log", "domain": [1, 100], "nice": false}, "axis": {"title": "Elevation angle [°]", "values": [1, 10, 100], "format": "~g", "grid": false, "tickSize": 5, "labelPadding": 12, "titlePadding": 5, "titleFontSize": 13, "titleFontWeight": "bold", "labelFlush": false}},
            "y": {"field": "damf", "type": "quantitative", "scale": {"domain": [0, 4.5], "nice": false}, "axis": {"title": "DAMF", "values": [0, 1, 2, 3, 4], "format": "~g", "grid": true, "tickSize": 4, "labelPadding": 7, "domainColor": "#444", "titleFont": "Liberation Sans", "titleFontSize": 12, "titleFontWeight": "bold", "titlePadding": 28}}
          },
          "layer": [
            {"mark": {"type": "line", "strokeWidth": 1.5}, "encoding": {"stroke": {"field": "series", "type": "nominal", "scale": {"domain": ["no cloud", "cloud OD: 1", "cloud OD: 2", "cloud OD: 5"], "range": ["#1a1a7a", "#ff0000", "#33ee33", "#ff00ff"]}, "legend": {"title": null, "orient": "none", "legendX": 19, "legendY": 13}}}},
            {"transform": [{"filter": "datum.series === 'no cloud'"}], "mark": {"type": "point", "shape": "diamond", "filled": true, "opacity": 1, "size": 56}, "encoding": {"fill": {"field": "series", "type": "nominal", "scale": {"domain": ["no cloud", "cloud OD: 1", "cloud OD: 2", "cloud OD: 5"], "range": ["#1a1a7a", "#ff0000", "#33ee33", "#ff00ff"]}, "legend": {"title": null, "orient": "none", "legendX": 19, "legendY": 13}}}},
            {"transform": [{"filter": "datum.series === 'cloud OD: 2'"}], "mark": {"type": "point", "shape": "triangle-up", "filled": true, "opacity": 1, "size": 60}, "encoding": {"fill": {"field": "series", "type": "nominal", "scale": {"domain": ["no cloud", "cloud OD: 1", "cloud OD: 2", "cloud OD: 5"], "range": ["#1a1a7a", "#ff0000", "#33ee33", "#ff00ff"]}, "legend": {"title": null, "orient": "none", "legendX": 19, "legendY": 13}}}},
            {"transform": [{"filter": "datum.series === 'cloud OD: 1' || datum.series === 'cloud OD: 5'"}], "mark": {"type": "point", "shape": "square", "filled": true, "opacity": 1, "size": 64}, "encoding": {"fill": {"field": "series", "type": "nominal", "scale": {"domain": ["no cloud", "cloud OD: 1", "cloud OD: 2", "cloud OD: 5"], "range": ["#1a1a7a", "#ff0000", "#33ee33", "#ff00ff"]}, "legend": {"title": null, "orient": "none", "legendX": 19, "legendY": 13}}}},
            {"mark": {"type": "point", "filled": true, "opacity": 0},
             "encoding": {
               "fill": {"field": "series", "type": "nominal", "scale": {"domain": ["no cloud", "cloud OD: 1", "cloud OD: 2", "cloud OD: 5"], "range": ["#1a1a7a", "#ff0000", "#33ee33", "#ff00ff"]}, "legend": {"title": null, "orient": "none", "legendX": 19, "legendY": 13}},
               "stroke": {"field": "series", "type": "nominal", "scale": {"domain": ["no cloud", "cloud OD: 1", "cloud OD: 2", "cloud OD: 5"], "range": ["#1a1a7a", "#ff0000", "#33ee33", "#ff00ff"]}, "legend": {"title": null, "orient": "none", "legendX": 19, "legendY": 13}},
               "shape": {"field": "series", "type": "nominal", "scale": {"domain": ["no cloud", "cloud OD: 1", "cloud OD: 2", "cloud OD: 5"], "range": ["M-1,0H1M0,-0.36L0.32,0L0,0.36L-0.32,0Z", "M-1,0H1M-0.38,-0.38H0.38V0.38H-0.38Z", "M-1,0H1M0,-0.38L0.36,0.3L-0.36,0.3Z", "M-1,0H1M-0.38,-0.38H0.38V0.38H-0.38Z"]}, "legend": {"title": null, "orient": "none", "legendX": 19, "legendY": 13}}
             }}
          ]
        },
        {
          "layer": [
            {"data": {"values": [{}]}, "mark": {"type": "rect", "fill": "white", "stroke": "#000", "strokeWidth": 1.5}, "encoding": {"x": {"datum": -0.92, "type": "quantitative", "scale": {"domain": [0, 1.6], "range": [332, 449], "nice": false, "zero": false}}, "x2": {"datum": 1.82}, "y": {"datum": -0.79, "type": "quantitative", "scale": {"domain": [0, 2.1], "range": [115, 11], "nice": false, "zero": false}}, "y2": {"datum": 2.26}}},
            {"data": {"values": [{}]}, "mark": {"type": "rect", "fill": null, "fillOpacity": 0, "stroke": "#333", "strokeWidth": 1.5}, "encoding": {"x": {"datum": 0, "type": "quantitative", "scale": {"domain": [0, 1.6], "range": [332, 449], "nice": false, "zero": false}}, "x2": {"datum": 1.6}, "y": {"datum": 0, "type": "quantitative", "scale": {"domain": [0, 2.1], "range": [115, 11], "nice": false, "zero": false}}, "y2": {"datum": 2.1}}},
            {"data": {"name": "prof5"}, "mark": {"type": "line", "color": "#ff2020", "strokeWidth": 1.5}, "encoding": {
              "x": {"field": "ext", "type": "quantitative", "scale": {"domain": [0, 1.6], "range": [332, 449], "nice": false, "zero": false}, "axis": {"orient": "bottom", "offset": -183, "values": [0, 0.5, 1, 1.5], "format": "~g", "grid": false, "domain": false, "tickSize": 3, "tickColor": "#999", "labelPadding": 19, "labelFontSize": 12, "title": null, "zindex": 1, "labelFlush": false}},
              "y": {"field": "h", "type": "quantitative", "scale": {"domain": [0, 2.1], "range": [115, 11], "nice": false, "zero": false}, "axis": {"orient": "left", "offset": -332, "values": [0, 0.5, 1, 1.5, 2], "format": "~g", "grid": false, "domain": false, "tickSize": 0, "labelPadding": 13, "labelOffset": 4, "labelFontSize": 12, "title": "Height [km]", "titleFont": "Liberation Sans", "titleFontSize": 11, "titleFontWeight": "normal", "titlePadding": 22, "zindex": 1}},
              "order": {"field": "i", "type": "quantitative"}}}
          ]
        }
      ]
    }
  ]
}
